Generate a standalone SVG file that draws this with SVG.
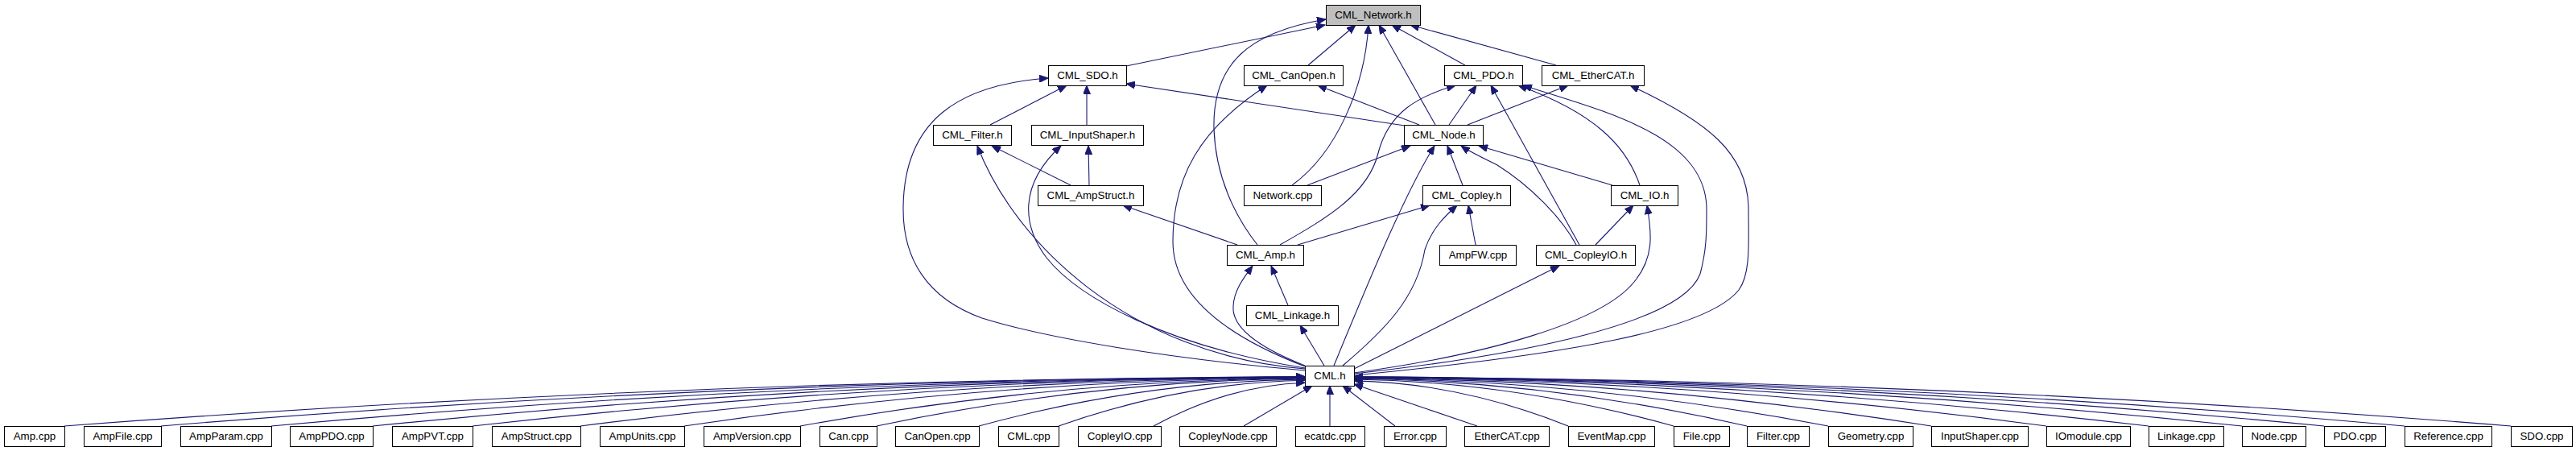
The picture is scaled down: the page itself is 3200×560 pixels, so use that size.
<svg xmlns="http://www.w3.org/2000/svg" width="3200" height="560" viewBox="0 0 3200 560">
<style>
.bg{fill:#fff}
.node rect{fill:#fff;stroke:#000;stroke-width:1}
.node.root rect{fill:#bfbfbf}
.node text{font-family:"Liberation Sans",Arial,Helvetica,sans-serif;font-size:13.33px;text-anchor:middle;fill:#000}
.edges path{fill:none;stroke:#191970;stroke-width:1.1;marker-end:url(#arr)}
</style>
<defs>
<marker id="arr" markerWidth="12" markerHeight="9" refX="11" refY="4.5" orient="auto" markerUnits="userSpaceOnUse">
<path d="M0,0 L11,4.5 L0,9 Z" fill="#191970" stroke="#191970" stroke-width="1"/>
</marker>
</defs>
<rect class="bg" x="0" y="0" width="3200" height="560"/>
<g id="connectors" class="edges">
<!-- into CML_Network.h -->
<path d="M1399,82 L1646,31"/>
<path d="M1562,304 C1535,270 1510,220 1508,160 C1506,80 1550,40 1647,24"/>
<path d="M1625,81 L1684,31"/>
<path d="M1605,230 C1660,190 1695,110 1700,31"/>
<path d="M1783,155 L1713,31"/>
<path d="M1820,81 L1729,31"/>
<path d="M1933,81 L1752,31"/>
<!-- into CML_SDO.h -->
<path d="M1230,155 L1325,106"/>
<path d="M1350,155 L1350,106"/>
<path d="M1745,156 L1399,104"/>
<path d="M1621,460 C1450,445 1300,420 1220,395 C1150,370 1122,320 1122,260 C1122,150 1190,105 1302,97"/>
<!-- into CML_CanOpen.h -->
<path d="M1763,155 L1637,106"/>
<path d="M1621,455 C1530,420 1457,370 1457,300 C1457,220 1490,160 1574,106"/>
<!-- into CML_PDO.h -->
<path d="M1800,155 L1834,106"/>
<path d="M1590,304 C1650,270 1700,240 1712,190 C1725,140 1760,120 1808,106"/>
<path d="M1962,304 L1852,106"/>
<path d="M2037,230 C2020,180 1980,140 1886,106"/>
<path d="M1682,464 C1900,440 2090,400 2112,340 C2120,310 2120,290 2120,260 C2120,170 2000,140 1892,106"/>
<!-- into CML_EtherCAT.h -->
<path d="M1823,155 L1948,106"/>
<path d="M1682,466 C1950,440 2120,410 2160,360 C2175,340 2172,300 2172,260 C2172,190 2120,150 2025,106"/>
<!-- into CML_Filter.h / CML_InputShaper.h -->
<path d="M1330,230 L1232,181"/>
<path d="M1621,458 C1400,440 1260,300 1214,181"/>
<path d="M1353,230 L1352,181"/>
<path d="M1621,457 C1450,430 1340,370 1300,320 C1270,280 1265,230 1318,181"/>
<!-- into CML_Node.h -->
<path d="M1624,230 L1752,181"/>
<path d="M1817,230 L1798,181"/>
<path d="M1958,304 C1940,270 1900,230 1860,205 C1840,195 1825,188 1815,181"/>
<path d="M2003,230 L1837,181"/>
<path d="M1657,454 C1700,350 1745,240 1782,181"/>
<!-- into CML_AmpStruct.h -->
<path d="M1537,304 L1395,255"/>
<!-- into CML_Copley.h -->
<path d="M1612,304 L1776,255"/>
<path d="M1668,454 C1720,410 1760,370 1770,310 C1778,285 1795,268 1810,255"/>
<path d="M1833,304 L1824,255"/>
<!-- into CML_IO.h -->
<path d="M1982,304 L2029,255"/>
<path d="M1682,463 C1850,440 1990,400 2030,350 C2055,320 2052,290 2046,255"/>
<!-- into CML_Amp.h -->
<path d="M1621,454 C1560,430 1530,405 1532,380 C1533,360 1545,345 1556,330"/>
<path d="M1600,379 L1579,330"/>
<!-- into CML_Linkage.h -->
<path d="M1645,454 L1615,404"/>
<!-- into CML_CopleyIO.h -->
<path d="M1682,458 L1937,330"/>
<!-- into CML.h from the bottom row -->
<path d="M80,529 Q850.5,470.8 1621,467.7"/>
<path d="M200,529 Q910.5,470.9 1621,467.8"/>
<path d="M337,529 Q979,471 1621,468"/>
<path d="M463,529 Q1042,471.1 1621,468.1"/>
<path d="M587,529 Q1104,471.3 1621,468.3"/>
<path d="M721,529 Q1171,471.5 1621,468.5"/>
<path d="M850,529 Q1235.5,471.9 1621,468.9"/>
<path d="M994,529 Q1307.5,472.4 1621,469.4"/>
<path d="M1089,529 Q1355,472.9 1621,469.9"/>
<path d="M1216,529 Q1418.5,473.8 1621,470.9"/>
<path d="M1315,529 Q1468,475 1621,472.2"/>
<path d="M1433,529 Q1527,478 1621,475.2"/>
<path d="M1545,529 L1630,479"/>
<path d="M1652,529 L1652,479"/>
<path d="M1733,529 L1668,479"/>
<path d="M1835,529 L1682,477"/>
<path d="M1948,529 Q1815,475.7 1682,472.9"/>
<path d="M2079,529 Q1880.5,473.9 1682,471"/>
<path d="M2170,529 Q1926,473.1 1682,470.2"/>
<path d="M2271,529 Q1976.5,472.6 1682,469.6"/>
<path d="M2399,529 Q2040.5,472.1 1682,469.1"/>
<path d="M2542,529 Q2112,471.6 1682,468.6"/>
<path d="M2669,529 Q2175.5,471.4 1682,468.4"/>
<path d="M2785,529 Q2233.5,471.2 1682,468.2"/>
<path d="M2887,529 Q2284.5,471 1682,468"/>
<path d="M2987,529 Q2334.5,470.9 1682,467.9"/>
<path d="M3119,529 Q2400.5,470.9 1682,467.8"/>
</g>
<g id="n_network" class="node root"><rect x="1647.5" y="6.5" width="117" height="25"/><text x="1706" y="23.2">CML_Network.h</text></g>
<g id="n_sdo" class="node"><rect x="1302.5" y="81.5" width="97" height="25"/><text x="1351" y="98.2">CML_SDO.h</text></g>
<g id="n_canopen" class="node"><rect x="1545.5" y="81.5" width="123" height="25"/><text x="1607" y="98.2">CML_CanOpen.h</text></g>
<g id="n_pdo" class="node"><rect x="1794.5" y="81.5" width="97" height="25"/><text x="1843" y="98.2">CML_PDO.h</text></g>
<g id="n_ethercat" class="node"><rect x="1915.5" y="81.5" width="127" height="25"/><text x="1979" y="98.2">CML_EtherCAT.h</text></g>
<g id="n_filter" class="node"><rect x="1159.5" y="155.5" width="97" height="25"/><text x="1208" y="172.2">CML_Filter.h</text></g>
<g id="n_inputshaper" class="node"><rect x="1281.5" y="155.5" width="139" height="25"/><text x="1351" y="172.2">CML_InputShaper.h</text></g>
<g id="n_node" class="node"><rect x="1744.5" y="155.5" width="98" height="25"/><text x="1793.5" y="172.2">CML_Node.h</text></g>
<g id="n_ampstruct" class="node"><rect x="1289.5" y="230.5" width="131" height="25"/><text x="1355" y="247.2">CML_AmpStruct.h</text></g>
<g id="n_networkcpp" class="node"><rect x="1545.5" y="230.5" width="96" height="25"/><text x="1593.5" y="247.2">Network.cpp</text></g>
<g id="n_copley" class="node"><rect x="1767.5" y="230.5" width="109" height="25"/><text x="1822" y="247.2">CML_Copley.h</text></g>
<g id="n_io" class="node"><rect x="2001.5" y="230.5" width="83" height="25"/><text x="2043" y="247.2">CML_IO.h</text></g>
<g id="n_amp" class="node"><rect x="1524.5" y="304.5" width="95" height="25"/><text x="1572" y="321.2">CML_Amp.h</text></g>
<g id="n_ampfw" class="node"><rect x="1788.5" y="304.5" width="95" height="25"/><text x="1836" y="321.2">AmpFW.cpp</text></g>
<g id="n_copleyio" class="node"><rect x="1908.5" y="304.5" width="123" height="25"/><text x="1970" y="321.2">CML_CopleyIO.h</text></g>
<g id="n_linkage" class="node"><rect x="1548.5" y="379.5" width="114" height="25"/><text x="1605.5" y="396.2">CML_Linkage.h</text></g>
<g id="n_cml" class="node"><rect x="1621.5" y="454.5" width="61" height="25"/><text x="1652" y="471.2">CML.h</text></g>
<g id="b_amp" class="node"><rect x="5.5" y="529.5" width="75" height="25"/><text x="43" y="546.2">Amp.cpp</text></g>
<g id="b_ampfile" class="node"><rect x="104.5" y="529.5" width="96" height="25"/><text x="152.5" y="546.2">AmpFile.cpp</text></g>
<g id="b_ampparam" class="node"><rect x="224.5" y="529.5" width="113" height="25"/><text x="281" y="546.2">AmpParam.cpp</text></g>
<g id="b_amppdo" class="node"><rect x="360.5" y="529.5" width="103" height="25"/><text x="412" y="546.2">AmpPDO.cpp</text></g>
<g id="b_amppvt" class="node"><rect x="487.5" y="529.5" width="100" height="25"/><text x="537.5" y="546.2">AmpPVT.cpp</text></g>
<g id="b_ampstruct" class="node"><rect x="611.5" y="529.5" width="110" height="25"/><text x="666.5" y="546.2">AmpStruct.cpp</text></g>
<g id="b_ampunits" class="node"><rect x="745.5" y="529.5" width="105" height="25"/><text x="798" y="546.2">AmpUnits.cpp</text></g>
<g id="b_ampversion" class="node"><rect x="874.5" y="529.5" width="120" height="25"/><text x="934.5" y="546.2">AmpVersion.cpp</text></g>
<g id="b_can" class="node"><rect x="1018.5" y="529.5" width="71" height="25"/><text x="1054" y="546.2">Can.cpp</text></g>
<g id="b_canopen" class="node"><rect x="1112.5" y="529.5" width="104" height="25"/><text x="1164.5" y="546.2">CanOpen.cpp</text></g>
<g id="b_cml" class="node"><rect x="1240.5" y="529.5" width="75" height="25"/><text x="1278" y="546.2">CML.cpp</text></g>
<g id="b_copleyio" class="node"><rect x="1339.5" y="529.5" width="103" height="25"/><text x="1391" y="546.2">CopleyIO.cpp</text></g>
<g id="b_copleynode" class="node"><rect x="1465.5" y="529.5" width="120" height="25"/><text x="1525.5" y="546.2">CopleyNode.cpp</text></g>
<g id="b_ecatdc" class="node"><rect x="1609.5" y="529.5" width="86" height="25"/><text x="1652.5" y="546.2">ecatdc.cpp</text></g>
<g id="b_error" class="node"><rect x="1719.5" y="529.5" width="77" height="25"/><text x="1758" y="546.2">Error.cpp</text></g>
<g id="b_ethercat" class="node"><rect x="1819.5" y="529.5" width="105" height="25"/><text x="1872" y="546.2">EtherCAT.cpp</text></g>
<g id="b_eventmap" class="node"><rect x="1948.5" y="529.5" width="107" height="25"/><text x="2002" y="546.2">EventMap.cpp</text></g>
<g id="b_file" class="node"><rect x="2079.5" y="529.5" width="69" height="25"/><text x="2114" y="546.2">File.cpp</text></g>
<g id="b_filter" class="node"><rect x="2170.5" y="529.5" width="77" height="25"/><text x="2209" y="546.2">Filter.cpp</text></g>
<g id="b_geometry" class="node"><rect x="2271.5" y="529.5" width="105" height="25"/><text x="2324" y="546.2">Geometry.cpp</text></g>
<g id="b_inputshaper" class="node"><rect x="2399.5" y="529.5" width="120" height="25"/><text x="2459.5" y="546.2">InputShaper.cpp</text></g>
<g id="b_iomodule" class="node"><rect x="2542.5" y="529.5" width="104" height="25"/><text x="2594.5" y="546.2">IOmodule.cpp</text></g>
<g id="b_linkage" class="node"><rect x="2669.5" y="529.5" width="93" height="25"/><text x="2716" y="546.2">Linkage.cpp</text></g>
<g id="b_node" class="node"><rect x="2785.5" y="529.5" width="79" height="25"/><text x="2825" y="546.2">Node.cpp</text></g>
<g id="b_pdo" class="node"><rect x="2887.5" y="529.5" width="76" height="25"/><text x="2925.5" y="546.2">PDO.cpp</text></g>
<g id="b_reference" class="node"><rect x="2987.5" y="529.5" width="108" height="25"/><text x="3041.5" y="546.2">Reference.cpp</text></g>
<g id="b_sdo" class="node"><rect x="3119.5" y="529.5" width="76" height="25"/><text x="3157.5" y="546.2">SDO.cpp</text></g>
</svg>
